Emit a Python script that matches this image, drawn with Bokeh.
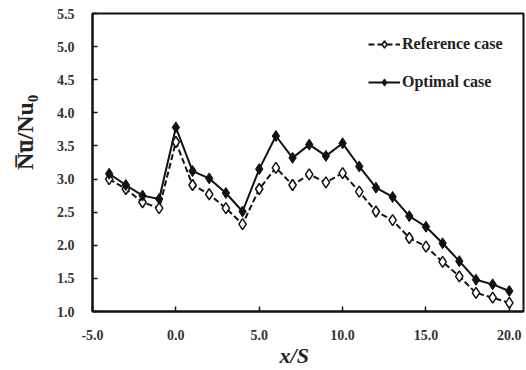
from bokeh.plotting import figure
from bokeh.models import Legend, LegendItem, FixedTicker, NumeralTickFormatter, Range1d
from bokeh.embed import file_html
from bokeh.resources import INLINE

x_pos = [-4, -3, -2, -1, 0, 1, 2, 3, 4, 5, 6, 7, 8, 9, 10, 11, 12, 13, 14, 15, 16, 17, 18, 19, 20]
reference_case = [3.00, 2.85, 2.65, 2.56, 3.56, 2.91, 2.77, 2.56, 2.32, 2.85, 3.17, 2.91, 3.07, 2.95, 3.09,
                  2.81, 2.51, 2.38, 2.11, 1.98, 1.75, 1.53, 1.28, 1.21, 1.13]
optimal_case = [3.08, 2.91, 2.75, 2.70, 3.78, 3.12, 3.01, 2.79, 2.51, 3.15, 3.65, 3.32, 3.52, 3.35, 3.54,
                3.19, 2.87, 2.73, 2.44, 2.28, 2.03, 1.76, 1.48, 1.41, 1.31]
x_ticks = [-5, 0, 5, 10, 15, 20]
y_ticks = [1.0, 1.5, 2.0, 2.5, 3.0, 3.5, 4.0, 4.5, 5.0, 5.5]

FONT = "Liberation Serif"
NB = "\u00a0"

p = figure(width=526, height=370, output_backend="svg", toolbar_location=None,
           x_range=Range1d(-5, 20.85), y_range=Range1d(1.0, 5.5))
p.min_border_left = 92
p.min_border_right = 3
p.min_border_top = 13
p.min_border_bottom = 56
p.background_fill_color = "white"
p.border_fill_color = "white"
p.outline_line_color = "#111111"
p.outline_line_width = 2
p.xgrid.visible = False
p.ygrid.visible = False

for ax in (p.xaxis[0], p.yaxis[0]):
    ax.axis_line_color = "#111111"
    ax.axis_line_width = 2
    ax.major_tick_in = 5
    ax.major_tick_out = 0
    ax.major_tick_line_width = 1.5
    ax.major_tick_line_color = "#111111"
    ax.minor_tick_line_color = None
    ax.major_label_text_font = FONT
    ax.major_label_text_font_style = "bold"
    ax.major_label_text_font_size = "14px"
    ax.major_label_text_color = "#333333"
    ax.formatter = NumeralTickFormatter(format="0.0")

p.xaxis[0].ticker = FixedTicker(ticks=x_ticks)
p.yaxis[0].ticker = FixedTicker(ticks=y_ticks)
p.xaxis[0].major_label_standoff = 18
p.yaxis[0].major_label_standoff = 18

p.xaxis[0].axis_label = "x/S" + NB * 5
p.xaxis[0].axis_label_text_font = FONT
p.xaxis[0].axis_label_text_font_style = "bold italic"
p.xaxis[0].axis_label_text_font_size = "22px"
p.xaxis[0].axis_label_text_color = "#222222"
p.xaxis[0].axis_label_standoff = 0

p.yaxis[0].axis_label = NB * 10 + "N\u0305u\u0305/Nu\u2080"
p.yaxis[0].axis_label_text_font = FONT
p.yaxis[0].axis_label_text_font_style = "bold"
p.yaxis[0].axis_label_text_font_size = "24px"
p.yaxis[0].axis_label_text_color = "#222222"
p.yaxis[0].axis_label_standoff = 16

r_line = p.line(x_pos, reference_case, line_color="#111111", line_width=2, line_dash="6 3")
r_pts = p.scatter(x_pos, reference_case, marker="diamond", size=11, fill_color="white",
                  line_color="#111111", line_width=1.5)
o_line = p.line(x_pos, optimal_case, line_color="#111111", line_width=2)
o_pts = p.scatter(x_pos, optimal_case, marker="diamond", size=11, fill_color="#111111",
                  line_color="#111111", line_width=1)

legend = Legend(items=[LegendItem(label="Reference case", renderers=[r_line, r_pts]),
                       LegendItem(label="Optimal case", renderers=[o_line, o_pts])],
                location=(276, 220), orientation="vertical",
                border_line_color=None, background_fill_alpha=0,
                label_text_font=FONT, label_text_font_style="bold", label_text_font_size="16px",
                label_text_color="#222222", glyph_width=32, glyph_height=18,
                label_standoff=2, spacing=20, padding=0, margin=0)
p.add_layout(legend)

open("out.html", "w").write(file_html(p, INLINE))
